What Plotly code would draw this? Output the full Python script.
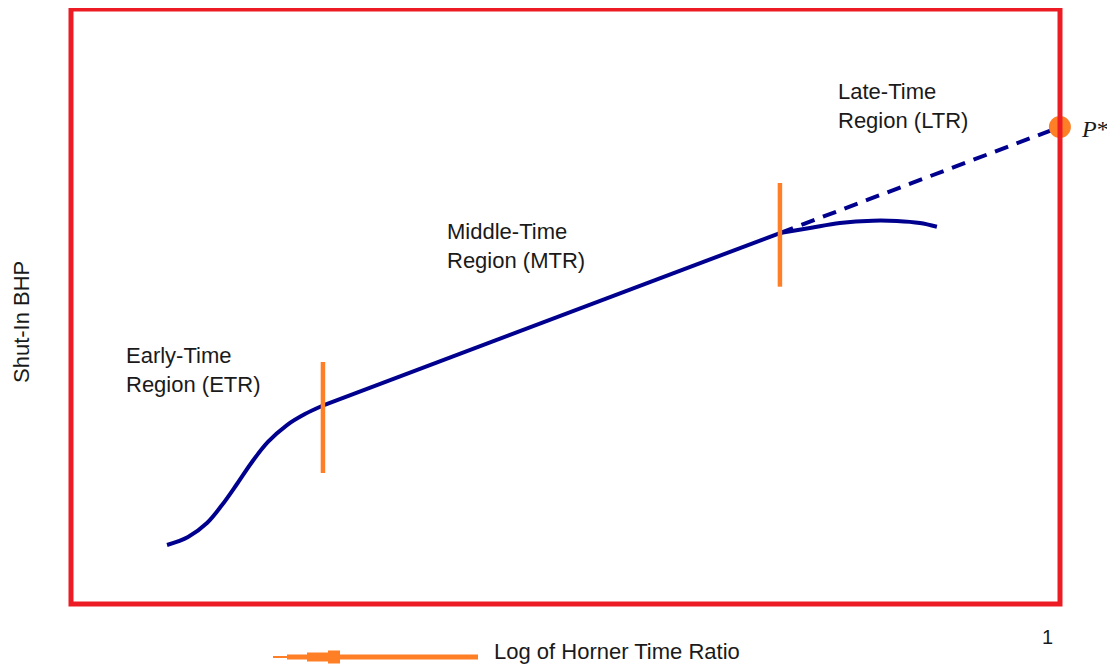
import plotly.graph_objects as go

# ---- data (normalized log Horner time ratio vs. normalized shut-in BHP) ----
etr_x = [0.0983, 0.1198, 0.1392, 0.1546, 0.1699, 0.1853, 0.2016, 0.2211, 0.2395, 0.2569]
etr_y = [0.0992, 0.1126, 0.1361, 0.1664, 0.2017, 0.2387, 0.2723, 0.3008, 0.3193, 0.3328]

mtr_x = [0.2569, 0.7257]
mtr_y = [0.3328, 0.6235]

ltr_x = [0.7257, 0.7564, 0.7871, 0.8209, 0.8454, 0.8690, 0.8864]
ltr_y = [0.6235, 0.6319, 0.6403, 0.6442, 0.6437, 0.6403, 0.6341]

extrap_x = [0.7257, 1.0123]
extrap_y = [0.6235, 0.8017]

pstar_x = [1.0123]
pstar_y = [0.8017]

bound1_x = [0.2579, 0.2579]
bound1_y = [0.2202, 0.4067]
bound2_x = [0.7257, 0.7257]
bound2_y = [0.5333, 0.7076]

region_labels = ["Early-Time<br>Region (ETR)", "Middle-Time<br>Region (MTR)", "Late-Time<br>Region (LTR)"]
region_x = [0.0542, 0.3828, 0.7830]
region_y = [0.3933, 0.6017, 0.8370]

tick_vals = [1]
tick_text = ["1"]

BLUE = "#00008E"
ORANGE = "#FF7F27"
RED = "#ED1C24"
TXT = "#1a1a1a"
FONT = "Liberation Sans, Arial, sans-serif"

fig = go.Figure()
fig.add_trace(go.Scatter(x=etr_x, y=etr_y, mode="lines",
                         line=dict(color=BLUE, width=4, shape="spline", smoothing=1.0),
                         hoverinfo="skip"))
fig.add_trace(go.Scatter(x=mtr_x, y=mtr_y, mode="lines",
                         line=dict(color=BLUE, width=4), hoverinfo="skip"))
fig.add_trace(go.Scatter(x=ltr_x, y=ltr_y, mode="lines",
                         line=dict(color=BLUE, width=4, shape="spline", smoothing=1.0),
                         hoverinfo="skip"))
fig.add_trace(go.Scatter(x=extrap_x, y=extrap_y, mode="lines",
                         line=dict(color=BLUE, width=4, dash="14px,9px"),
                         cliponaxis=False, hoverinfo="skip"))
fig.add_trace(go.Scatter(x=bound1_x, y=bound1_y, mode="lines",
                         line=dict(color=ORANGE, width=4.5), hoverinfo="skip"))
fig.add_trace(go.Scatter(x=bound2_x, y=bound2_y, mode="lines",
                         line=dict(color=ORANGE, width=4.5), hoverinfo="skip"))
fig.add_trace(go.Scatter(x=pstar_x, y=pstar_y, mode="markers",
                         marker=dict(color=ORANGE, size=22, line=dict(width=0)),
                         cliponaxis=False, hoverinfo="skip"))

annotations = []
for t, x, y in zip(region_labels, region_x, region_y):
    annotations.append(dict(x=x, y=y, xref="x", yref="y", text=t, showarrow=False,
                            xanchor="left", yanchor="middle", align="left",
                            font=dict(family=FONT, size=22, color=TXT)))
annotations.append(dict(x=pstar_x[0], y=pstar_y[0], xref="x", yref="y",
                        text="<i>P</i>*", showarrow=False,
                        xanchor="left", yanchor="middle", xshift=19, yshift=-2,
                        font=dict(family="Liberation Serif, Times New Roman, serif", size=24, color=TXT)))
for v, t in zip(tick_vals, tick_text):
    annotations.append(dict(x=v, y=0, xref="x", yref="y", text=t, showarrow=False,
                            xanchor="center", yanchor="middle", yshift=-33,
                            font=dict(family=FONT, size=20, color=TXT)))
annotations.append(dict(x=-0.0495, y=0.474, xref="paper", yref="paper", text="Shut-In BHP",
                        showarrow=False, textangle=-90, xanchor="center", yanchor="middle",
                        font=dict(family=FONT, size=22, color=TXT)))
annotations.append(dict(x=0.4257, y=-0.079, xref="paper", yref="paper",
                        text="Log of Horner Time Ratio", showarrow=False,
                        xanchor="left", yanchor="middle",
                        font=dict(family=FONT, size=22, color=TXT)))

def px(v):
    return (v - 71) / 989.0

ay = (604 - 657) / 595.0
shapes = [
    dict(type="rect", xref="paper", yref="paper", x0=0, x1=1, y0=0, y1=1,
         line=dict(color=RED, width=5), layer="above"),
    # direction arrow under the x axis title
    dict(type="line", xref="paper", yref="paper", x0=px(287), x1=px(478), y0=ay, y1=ay,
         line=dict(color=ORANGE, width=5)),
    dict(type="line", xref="paper", yref="paper", x0=px(273), x1=px(290), y0=ay, y1=ay,
         line=dict(color=ORANGE, width=2)),
    dict(type="line", xref="paper", yref="paper", x0=px(307), x1=px(334), y0=ay, y1=ay,
         line=dict(color=ORANGE, width=9)),
    dict(type="line", xref="paper", yref="paper", x0=px(328), x1=px(340), y0=ay, y1=ay,
         line=dict(color=ORANGE, width=13)),
]

# page has an 8px body margin, so the figure is shrunk and margins shifted by 8px
fig.update_layout(
    width=1107, height=658,
    margin=dict(l=63, r=55, t=1, b=62),
    paper_bgcolor="white", plot_bgcolor="white",
    showlegend=False,
    xaxis=dict(range=[0, 1.0124], showgrid=False, zeroline=False, showline=False,
               showticklabels=False, ticks="", fixedrange=True),
    yaxis=dict(range=[0, 1], showgrid=False, zeroline=False, showline=False,
               showticklabels=False, ticks="", fixedrange=True),
    annotations=annotations,
    shapes=shapes,
)

fig.write_html("out.html")
